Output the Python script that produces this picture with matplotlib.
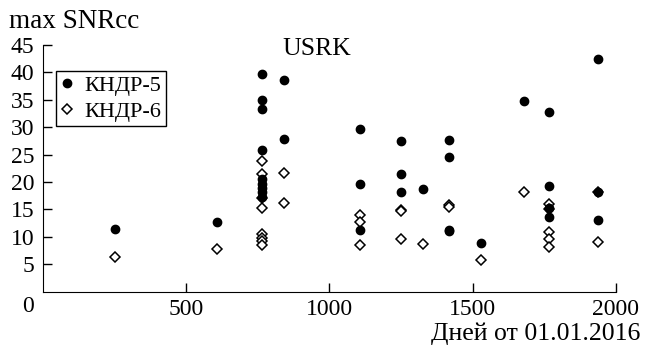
import matplotlib.pyplot as plt

plt.rcParams['font.family'] = ['Liberation Serif', 'DejaVu Serif']

# КНДР-5 (filled circles)
days5 = [253, 609,
         766, 766, 766, 766, 766, 766, 766, 766, 766,
         843, 843,
         1108, 1108, 1108,
         1252, 1252, 1252,
         1328,
         1418, 1418, 1418, 1418,
         1530,
         1681,
         1767, 1767, 1767, 1767,
         1936, 1936, 1936]
snr5 = [11.5, 12.8,
        39.7, 34.9, 33.4, 25.9, 20.6, 19.7, 18.9, 18.2, 17.3,
        38.6, 27.9,
        29.6, 19.7, 11.3,
        27.4, 21.5, 18.1,
        18.7,
        27.7, 24.5, 11.3, 11.0,
        8.8,
        34.7,
        32.7, 19.3, 15.2, 13.7,
        42.4, 18.1, 13.1]

# КНДР-6 (open diamonds)
days6 = [253, 609,
         766, 766, 766, 766, 766, 766, 766, 766,
         843, 843,
         1108, 1108, 1108,
         1252, 1252, 1252,
         1328,
         1418, 1418,
         1530,
         1681,
         1767, 1767, 1767, 1767, 1767,
         1936, 1936]
snr6 = [6.4, 7.8,
        23.9, 21.5, 17.0, 15.3, 10.5, 9.8, 9.2, 8.6,
        21.7, 16.2,
        14.0, 12.7, 8.6,
        14.9, 14.7, 9.7,
        8.7,
        15.8, 15.4,
        5.7,
        18.2,
        16.0, 15.0, 10.8, 9.6, 8.1,
        18.1, 9.1]

fig = plt.figure(figsize=(6.45, 3.48), dpi=100)
ax = fig.add_axes([0.0662, 0.1618, 0.8886, 0.7089])

ax.plot(days5, snr5, 'o', color='black', markersize=6, label='КНДР-5', zorder=3)
ax.plot(days6, snr6, 'D', markerfacecolor='white', markeredgecolor='black',
        markeredgewidth=1.1, markersize=5.5, label='КНДР-6', zorder=2)

ax.set_xlim(0, 2000)
ax.set_ylim(0, 45)
ax.set_xticks([500, 1000, 1500, 2000])
ax.set_yticks([5, 10, 15, 20, 25, 30, 35, 40, 45])
ax.spines['top'].set_visible(False)
ax.spines['right'].set_visible(False)
ax.tick_params(direction='in', length=6.5, width=1, labelsize=17)
ax.tick_params(axis='x', pad=5)
ax.tick_params(axis='y', pad=6)

fig.text(28 / 645, 1 - 307 / 348, '0', fontsize=17, ha='center', va='center')
fig.text(9 / 645, 1 - 22 / 348, 'max SNRcc', fontsize=19.5, ha='left', va='center')
fig.text(640 / 645, 1 - 334 / 348, 'Дней от 01.01.2016', fontsize=18.5,
         ha='right', va='center')
fig.text(317 / 645, 1 - 49 / 348, 'USRK', fontsize=18.5, ha='center', va='center')

leg = ax.legend(loc='upper left', bbox_to_anchor=(0.023, 0.895), fontsize=16,
                frameon=True, fancybox=False, edgecolor='black', framealpha=1,
                handlelength=0.6, handletextpad=0.5, borderpad=0.2,
                labelspacing=0.25, borderaxespad=0)
leg.get_frame().set_linewidth(1)

fig.savefig('out.png', dpi=100)
